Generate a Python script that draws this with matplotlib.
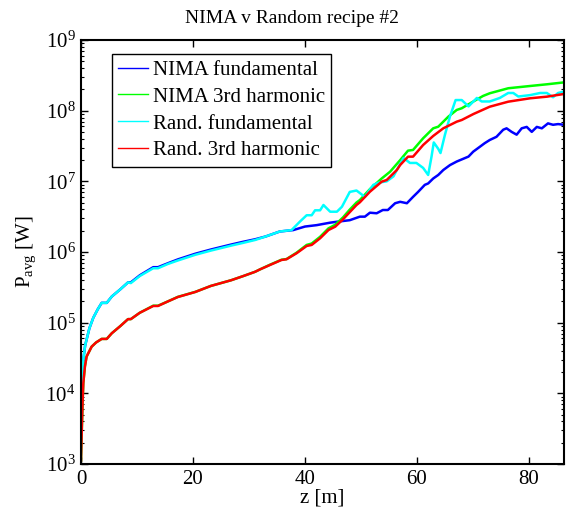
import numpy as np
import matplotlib.pyplot as plt
from matplotlib.lines import Line2D
from matplotlib.ticker import LogLocator, LogFormatterMathtext, NullFormatter

plt.rcParams['font.family'] = ['Liberation Serif', 'DejaVu Serif']
plt.rcParams['mathtext.fontset'] = 'custom'
plt.rcParams['mathtext.rm'] = 'Liberation Serif'
plt.rcParams['mathtext.it'] = 'Liberation Serif:italic'
plt.rcParams['mathtext.default'] = 'regular'

# position along undulator [m] and log10 of average power [W]
z_nima_fund = [0, 0.2, 0.45, 0.75, 1.0, 1.5, 2.2, 3.0, 3.7, 4.6, 5.5, 7.0, 8.4, 8.9, 10.5,
               12.9, 13.75, 15.5, 17.3, 20.4, 23.2, 26.8, 29, 31.1, 33, 35.5, 37.9, 40.0,
               42.1, 44.5, 45.9, 48.0, 49.8, 50.7, 51.6, 52.8, 53.9, 54.8, 56.1, 57.0, 58.2,
               59.3, 60.2, 60.8, 61.4, 62.0, 62.9, 63.8, 64.7, 65.9, 67.1, 68.0, 69.2, 70.05,
               71.25, 72.1, 73.0, 74.2, 75.4, 76.0, 76.9, 77.8, 78.7, 79.6, 80.5, 81.4, 82.3,
               83.4, 84.3, 85.2, 86.25]
lp_nima_fund = [3.72, 4.2, 4.5, 4.68, 4.76, 4.92, 5.07, 5.19, 5.28, 5.28, 5.37, 5.47, 5.57, 5.57,
                5.67, 5.785, 5.785, 5.84, 5.895, 5.975, 6.035, 6.105, 6.145, 6.18, 6.22, 6.29,
                6.31, 6.36, 6.38, 6.415, 6.43, 6.45, 6.50, 6.50, 6.556, 6.548, 6.594, 6.594,
                6.69, 6.71, 6.69, 6.78, 6.85, 6.90, 6.95, 6.97, 7.04, 7.09, 7.16, 7.23, 7.28,
                7.31, 7.35, 7.42, 7.49, 7.54, 7.585, 7.63, 7.73, 7.75, 7.70, 7.66, 7.75, 7.77,
                7.70, 7.77, 7.75, 7.82, 7.80, 7.81, 7.80]

z_nima_3rd = [0, 0.15, 0.3, 0.42, 0.7, 1.0, 1.9, 2.7, 3.7, 4.6, 5.5, 7.0, 8.4, 8.9, 10.5,
              12.9, 13.75, 15.5, 17.3, 20.4, 23.2, 26.8, 29, 31.1, 32.0, 33.75, 35.8, 36.7,
              38.5, 40.3, 41.2, 42.7, 44.2, 45.4, 46.8, 48.0, 49.2, 49.8, 51.6, 53.0, 53.7,
              55.2, 57.0, 58.4, 59.3, 61.1, 62.9, 63.8, 65.6, 67.1, 68.0, 69.5, 71.8, 73.0,
              76.3, 80.2, 83.2, 86.25]
lp_nima_3rd = [3.05, 3.5, 3.91, 4.15, 4.38, 4.52, 4.66, 4.72, 4.77, 4.77, 4.85, 4.95, 5.05, 5.05,
               5.14, 5.24, 5.24, 5.30, 5.365, 5.435, 5.52, 5.60, 5.66, 5.72, 5.755, 5.82, 5.89,
               5.90, 5.99, 6.10, 6.12, 6.215, 6.335, 6.385, 6.49, 6.60, 6.70, 6.735, 6.89, 6.99,
               7.04, 7.136, 7.30, 7.434, 7.444, 7.609, 7.75, 7.773, 7.915, 8.01, 8.034, 8.104,
               8.208, 8.246, 8.317, 8.349, 8.373, 8.40]

z_rand_fund = [0, 0.2, 0.45, 0.75, 1.0, 1.5, 2.2, 3.0, 3.7, 4.6, 5.5, 7.0, 8.4, 8.9, 10.5,
               12.9, 13.75, 15.5, 17.3, 20.4, 23.2, 26.8, 29, 31.1, 33, 35.5, 37.6, 39.1, 40.3,
               41.2, 41.8, 42.7, 43.3, 44.5, 45.7, 46.6, 48.0, 49.2, 50.7, 52.2, 53.1, 54.6,
               55.8, 56.4, 57.6, 58.75, 59.9, 61.1, 62.0, 62.6, 63.0, 63.8, 64.2, 65.0, 65.9,
               66.9, 68.0, 69.2, 70.7, 71.55, 73.0, 74.8, 76.3, 77.2, 78.1, 80.2, 82.0, 83.2,
               84.3, 85.2, 86.25]
lp_rand_fund = [3.72, 4.2, 4.5, 4.68, 4.76, 4.92, 5.07, 5.19, 5.28, 5.28, 5.37, 5.47, 5.57, 5.56,
                5.66, 5.77, 5.77, 5.83, 5.88, 5.96, 6.02, 6.09, 6.13, 6.17, 6.22, 6.29, 6.31,
                6.43, 6.52, 6.52, 6.59, 6.59, 6.665, 6.57, 6.57, 6.64, 6.85, 6.87, 6.78, 6.95,
                6.98, 7.0, 7.07, 7.16, 7.33, 7.26, 7.26, 7.19, 7.09, 7.35, 7.55, 7.46, 7.40,
                7.66, 7.92, 8.15, 8.15, 8.06, 8.18, 8.13, 8.13, 8.18, 8.25, 8.25, 8.20, 8.22,
                8.25, 8.25, 8.19, 8.25, 8.27]

z_rand_3rd = [0, 0.15, 0.3, 0.42, 0.7, 1.0, 1.9, 2.7, 3.7, 4.6, 5.5, 7.0, 8.4, 8.9, 10.5,
              12.9, 13.75, 15.5, 17.3, 20.4, 23.2, 26.8, 29, 31.1, 32.0, 33.75, 35.8, 36.7,
              38.5, 40.3, 41.2, 42.7, 44.2, 45.4, 46.8, 49.2, 49.8, 51.6, 53.7, 54.6, 55.2,
              56.4, 57.0, 58.4, 59.3, 61.1, 62.9, 64.7, 67.1, 68.0, 70.1, 73.0, 76.3, 80.2,
              83.2, 86.25]
lp_rand_3rd = [3.05, 3.5, 3.91, 4.15, 4.38, 4.52, 4.66, 4.72, 4.77, 4.77, 4.85, 4.95, 5.05, 5.05,
               5.14, 5.236, 5.236, 5.30, 5.363, 5.434, 5.52, 5.60, 5.66, 5.72, 5.755, 5.816,
               5.887, 5.897, 5.982, 6.085, 6.10, 6.194, 6.311, 6.358, 6.463, 6.665, 6.703,
               6.853, 6.995, 7.019, 7.066, 7.16, 7.231, 7.349, 7.349, 7.514, 7.642, 7.75,
               7.844, 7.868, 7.953, 8.056, 8.127, 8.175, 8.198, 8.236]

labels = ['NIMA fundamental', 'NIMA 3rd harmonic', 'Rand. fundamental', 'Rand. 3rd harmonic']
colors = ['#0000ff', '#00ff00', '#00ffff', '#ff0000']
series = [(z_nima_fund, lp_nima_fund), (z_nima_3rd, lp_nima_3rd),
          (z_rand_fund, lp_rand_fund), (z_rand_3rd, lp_rand_3rd)]

fig = plt.figure(figsize=(5.76, 5.14), dpi=100)
ax = fig.add_axes([0.1406, 0.0973, 0.8385, 0.8249])

for (z, lp), c in zip(series, colors):
    ax.semilogy(z, 10 ** np.array(lp), color=c, lw=1.8)

ax.set_xlim(0, 86.25)
ax.set_ylim(1e3, 1e9)
ax.set_xticks([0, 20, 40, 60, 80])
ax.yaxis.set_major_locator(LogLocator(base=10, numticks=10))
ax.yaxis.set_major_formatter(LogFormatterMathtext())
ax.yaxis.set_minor_locator(LogLocator(base=10, subs=np.arange(2, 10), numticks=10))
ax.yaxis.set_minor_formatter(NullFormatter())
ax.tick_params(which='both', direction='in', top=True, right=True, labelsize=15)
ax.tick_params(which='major', length=5, width=1, pad=4)
ax.tick_params(which='minor', length=2.5, width=0.8)
for s in ax.spines.values():
    s.set_linewidth(1.5)

ax.set_title('NIMA v Random recipe #2', fontsize=14, pad=12, x=0.437)
ax.set_xlabel('z [m]', fontsize=15, labelpad=0)
ax.set_ylabel(r'P$_{\rm avg}$ [W]', fontsize=15, labelpad=5)

handles = [Line2D([], [], color=c, lw=1) for c in colors]
leg = ax.legend(handles, labels, loc='upper left', bbox_to_anchor=(0.064, 0.967),
                borderaxespad=0, fontsize=15, fancybox=False, framealpha=1,
                edgecolor='black', handlelength=1.45, handletextpad=0.2,
                labelspacing=0.35, borderpad=0.3)
leg.get_frame().set_linewidth(1)

fig.savefig('out.png', dpi=100)
